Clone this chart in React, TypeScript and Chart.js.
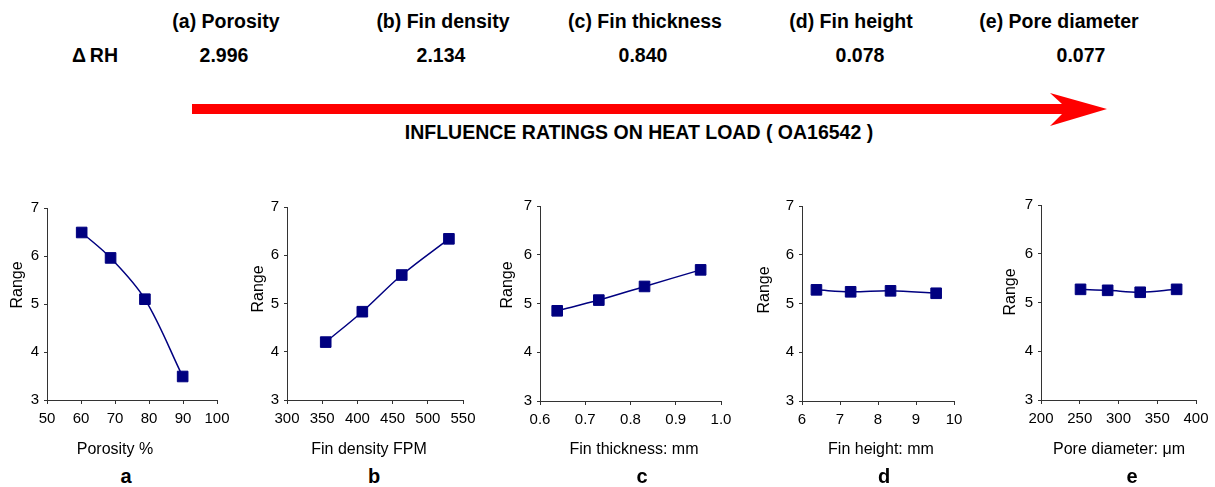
import React, { useEffect, useRef } from "react";
import { Chart, registerables } from "chart.js";

Chart.register(...registerables);

const FONT = '"Liberation Sans", Arial, Helvetica, sans-serif';
const NAVY = "#000080";
const AXIS = "#333333";

// ---- Header data ----
const factorNames = ["(a) Porosity", "(b) Fin density", "(c) Fin thickness", "(d) Fin height", "(e) Pore diameter"];
const deltaRHValues = ["2.996", "2.134", "0.840", "0.078", "0.077"];
const rowLabel = "\u0394\u2009RH";
const arrowCaption = "INFLUENCE RATINGS ON HEAT LOAD ( OA16542 )";

// ---- Panel data ----
const porosity = [60.2, 68.7, 78.8, 89.9];
const porosityRange = [6.49, 5.96, 5.1, 3.49];
const finDensity = [355, 407, 463, 530];
const finDensityRange = [4.2, 4.83, 5.59, 6.34];
const finThickness = [0.638, 0.73, 0.831, 0.955];
const finThicknessRange = [4.85, 5.07, 5.35, 5.69];
const finHeight = [6.38, 7.28, 8.33, 9.53];
const finHeightRange = [5.28, 5.24, 5.26, 5.21];
const poreDiameter = [251, 286, 328, 375];
const poreDiameterRange = [5.27, 5.25, 5.21, 5.27];

const panelX = [porosity, finDensity, finThickness, finHeight, poreDiameter];
const panelY = [porosityRange, finDensityRange, finThicknessRange, finHeightRange, poreDiameterRange];
const panelLetters = ["a", "b", "c", "d", "e"];
const xAxisTitles = ["Porosity %", "Fin density FPM", "Fin thickness: mm", "Fin height: mm", "Pore diameter: \u03bcm"];
const xMin = [50, 300, 0.6, 6, 200];
const xMax = [100, 550, 1.0, 10, 400];
const xStep = [10, 50, 0.1, 1, 50];
const xDecimals = [0, 0, 1, 0, 0];
const yMin = 3;
const yMax = 7;
const yStep = 1;
const yAxisTitle = "Range";

// ---- Layout (page pixels) ----
const headerX = [226, 443, 645, 851, 1059];
const valueX = [224, 441, 643, 860, 1081];
const panelBoxes = [
  { left: 47, right: 217, top: 208, bottom: 400, titleDx: 29, titleY: 285, letterX: 126, xTitleX: 115 },
  { left: 287, right: 463, top: 207, bottom: 400, titleDx: 28, titleY: 289, letterX: 374, xTitleX: 369 },
  { left: 540, right: 721, top: 206, bottom: 401, titleDx: 32, titleY: 285, letterX: 642, xTitleX: 634 },
  { left: 802, right: 954, top: 206, bottom: 401, titleDx: 37, titleY: 290, letterX: 884, xTitleX: 881 },
  { left: 1041, right: 1196, top: 205, bottom: 400, titleDx: 30, titleY: 292, letterX: 1132, xTitleX: 1119 },
];
const X_TITLE_Y = 450;
const Y_SCALE_W = 50;
const X_SCALE_H = 65;
const PAD_TOP = 17;
const PAD_RIGHT = 20;

function Panel({ idx }: { idx: number }) {
  const ref = useRef<HTMLCanvasElement>(null);
  const box = panelBoxes[idx];
  const width = Y_SCALE_W + (box.right - box.left) + PAD_RIGHT;
  const height = PAD_TOP + (box.bottom - box.top) + X_SCALE_H;
  const canvasLeft = box.left - Y_SCALE_W;
  const canvasTop = box.top - PAD_TOP;

  useEffect(() => {
    if (!ref.current) return;
    const axisTitles = {
      id: "axisTitles",
      afterDraw(chart: any) {
        const { ctx } = chart;
        ctx.save();
        ctx.font = `16px ${FONT}`;
        ctx.fillStyle = "#000";
        ctx.textAlign = "center";
        ctx.textBaseline = "middle";
        // x axis title
        ctx.fillText(xAxisTitles[idx], box.xTitleX - canvasLeft, X_TITLE_Y - canvasTop);
        // y axis title (rotated)
        ctx.translate(box.left - box.titleDx - canvasLeft, box.titleY - canvasTop);
        ctx.rotate(-Math.PI / 2);
        ctx.fillText(yAxisTitle, 0, 0);
        ctx.restore();
      },
    };
    const chart = new Chart(ref.current, {
      type: "line",
      data: {
        datasets: [
          {
            data: panelX[idx].map((x, i) => ({ x, y: panelY[idx][i] })),
            borderColor: NAVY,
            backgroundColor: NAVY,
            borderWidth: 1.5,
            tension: 0.35,
            fill: false,
            pointStyle: "rect",
            pointRadius: 7.5,
            pointBorderWidth: 1,
            pointBackgroundColor: NAVY,
            pointBorderColor: NAVY,
          },
        ],
      },
      options: {
        animation: false,
        responsive: true,
        maintainAspectRatio: false,
        events: [],
        layout: { padding: { top: PAD_TOP, right: PAD_RIGHT, left: 0, bottom: 0 } },
        plugins: { legend: { display: false }, tooltip: { enabled: false } },
        scales: {
          x: {
            type: "linear",
            min: xMin[idx],
            max: xMax[idx],
            afterFit: (s: any) => {
              s.height = X_SCALE_H;
            },
            ticks: {
              stepSize: xStep[idx],
              autoSkip: false,
              maxRotation: 0,
              padding: 6,
              color: "#000",
              font: { family: FONT, size: 15 },
              callback: (v: any) => Number(v).toFixed(xDecimals[idx]),
            },
            grid: { drawOnChartArea: false, drawTicks: true, tickLength: 4, color: AXIS },
            border: { color: AXIS, width: 1 },
          },
          y: {
            type: "linear",
            min: yMin,
            max: yMax,
            afterFit: (s: any) => {
              s.width = Y_SCALE_W;
            },
            ticks: {
              stepSize: yStep,
              padding: 5,
              color: "#000",
              font: { family: FONT, size: 15 },
              callback: (v: any) => String(v),
            },
            grid: { drawOnChartArea: false, drawTicks: true, tickLength: 3, color: AXIS },
            border: { color: AXIS, width: 1 },
          },
        },
      } as any,
      plugins: [axisTitles],
    });
    return () => chart.destroy();
  }, [idx]);

  return (
    <div
      style={{
        position: "absolute",
        left: canvasLeft,
        top: canvasTop,
        width,
        height,
      }}
    >
      <canvas ref={ref} />
    </div>
  );
}

const centered = (x: number, y: number, extra: React.CSSProperties = {}): React.CSSProperties => ({
  position: "absolute",
  left: x,
  top: y,
  transform: "translate(-50%, -50%)",
  whiteSpace: "nowrap",
  lineHeight: 1,
  fontWeight: "bold",
  color: "#000",
  ...extra,
});

export default function App() {
  return (
    <div
      style={{
        position: "fixed",
        left: 0,
        top: 0,
        width: 1215,
        height: 487,
        overflow: "hidden",
        background: "#fff",
        fontFamily: FONT,
      }}
    >
      {factorNames.map((t, i) => (
        <div key={t} style={centered(headerX[i], 22, { fontSize: 19.5 })}>
          {t}
        </div>
      ))}
      <div style={centered(95, 56, { fontSize: 19.5 })}>{rowLabel}</div>
      {deltaRHValues.map((v, i) => (
        <div key={"v" + i} style={centered(valueX[i], 56, { fontSize: 19.5 })}>
          {v}
        </div>
      ))}
      <svg
        width={1215}
        height={487}
        style={{ position: "absolute", left: 0, top: 0, pointerEvents: "none" }}
      >
        <polygon points="192,104 1062,104 1050,93 1107,109 1050,126 1062,114 192,114" fill="#ff0000" />
      </svg>
      <div style={centered(639, 133, { fontSize: 19.5 })}>{arrowCaption}</div>
      {panelBoxes.map((_, i) => (
        <Panel key={i} idx={i} />
      ))}
      {panelLetters.map((l, i) => (
        <div key={l} style={centered(panelBoxes[i].letterX, 476, { fontSize: 20 })}>
          {l}
        </div>
      ))}
    </div>
  );
}
